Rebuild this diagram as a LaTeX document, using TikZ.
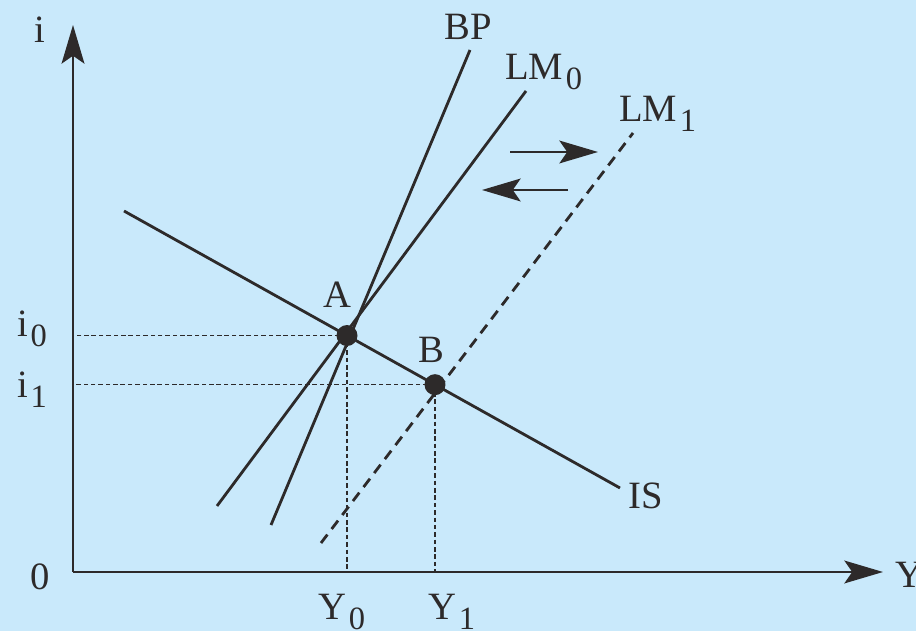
\documentclass[tikz,border=0pt]{standalone}
\usepackage{fontspec}
\setmainfont{Liberation Serif}
\usetikzlibrary{arrows.meta, calc}
\definecolor{bgblue}{RGB}{201,233,251}
\definecolor{ink}{RGB}{45,42,42}
\newcommand{\lowsub}[1]{\kern1.5pt\raisebox{-5.5pt}{\fontsize{18.5}{18.5}\selectfont #1}}
\tikzset{
	lab/.style={text=ink, inner sep=0pt, font=\fontsize{22}{26}\selectfont},
	curve/.style={ink, line width=1.6pt},
	guide/.style={ink, line width=0.7pt, dash pattern=on 2.6pt off 1.6pt},
	bigtip/.style={-{Stealth[length=22pt, width=13pt, inset=4.5pt]}},
	dot/.style={circle, fill=ink, minimum size=0.42cm, inner sep=0pt}
}
\begin{document}
\begin{tikzpicture}
	\useasboundingbox (-1.46, -1.18) rectangle (16.86, 11.44);
	\fill[bgblue] (-1.46, -1.18) rectangle (16.86, 11.44);
	% axes
	\coordinate (O) at (0, 0);
	\coordinate (itop) at (0, 10.94);
	\coordinate (yend) at (16.2, 0);
	\draw[ink, line width=1.1pt, bigtip] (O) -- (itop);
	\draw[ink, line width=1.1pt, bigtip] (O) -- (yend);
	\node[lab] (ilab) at (-0.66, 10.84) {i};
	\node[lab] (olab) at (-0.66, -0.1) {0};
	\node[lab, anchor=west] (ylab) at (16.44, -0.05) {Y};
	% curves
	\coordinate (is0) at (1.02, 7.22);
	\coordinate (is1) at (10.94, 1.68);
	\coordinate (bp0) at (3.96, 0.94);
	\coordinate (bp1) at (7.94, 10.44);
	\coordinate (lma0) at (2.88, 1.32);
	\coordinate (lma1) at (9.06, 9.62);
	\coordinate (lmb0) at (4.96, 0.58);
	\coordinate (lmb1) at (11.2, 8.78);
	\coordinate (A) at ($(is0)!0.4496!(is1)$);
	\coordinate (B) at ($(is0)!0.627!(is1)$);
	% guides
	\draw[guide] (A) -- (A -| O);
	\draw[guide] (A) -- (A |- O);
	\draw[guide] (B) -- (B -| O);
	\draw[guide] (B) -- (B |- O);
	\draw[curve] (is0) -- (is1);
	\draw[curve] (bp0) -- (bp1);
	\draw[curve] (lma0) -- (lma1);
	\draw[curve, dash pattern=on 6pt off 4pt] (lmb0) -- (lmb1);
	\node[dot] (adot) at (A) {};
	\node[dot] (bdot) at (B) {};
	% shift arrows
	\coordinate (r0) at (8.74, 8.4);
	\coordinate (r1) at (10.5, 8.4);
	\coordinate (l0) at (9.9, 7.64);
	\coordinate (l1) at (8.18, 7.64);
	\draw[ink, line width=1pt, bigtip] (r0) -- (r1);
	\draw[ink, line width=1pt, bigtip] (l0) -- (l1);
	% labels
	\node[lab, anchor=base] (bplab) at (7.9, 10.64) {BP};
	\node[lab, anchor=base west] (lmalab) at (8.64, 9.84) {LM\lowsub{0}};
	\node[lab, anchor=base west] (lmblab) at (10.92, 9.0) {LM\lowsub{1}};
	\node[lab, anchor=base west] (islab) at (11.1, 1.26) {IS};
	\node[lab, anchor=base] (alab) at (5.28, 5.28) {A};
	\node[lab, anchor=base] (blab) at (7.16, 4.18) {B};
	\node[lab, anchor=base west] (i0lab) at (-1.12, 4.7) {i\lowsub{0}};
	\node[lab, anchor=base west] (i1lab) at (-1.12, 3.48) {i\lowsub{1}};
	\node[lab, anchor=base west] (y0lab) at (4.9, -0.96) {Y\lowsub{0}};
	\node[lab, anchor=base west] (y1lab) at (7.1, -0.96) {Y\lowsub{1}};
\end{tikzpicture}
\end{document}
